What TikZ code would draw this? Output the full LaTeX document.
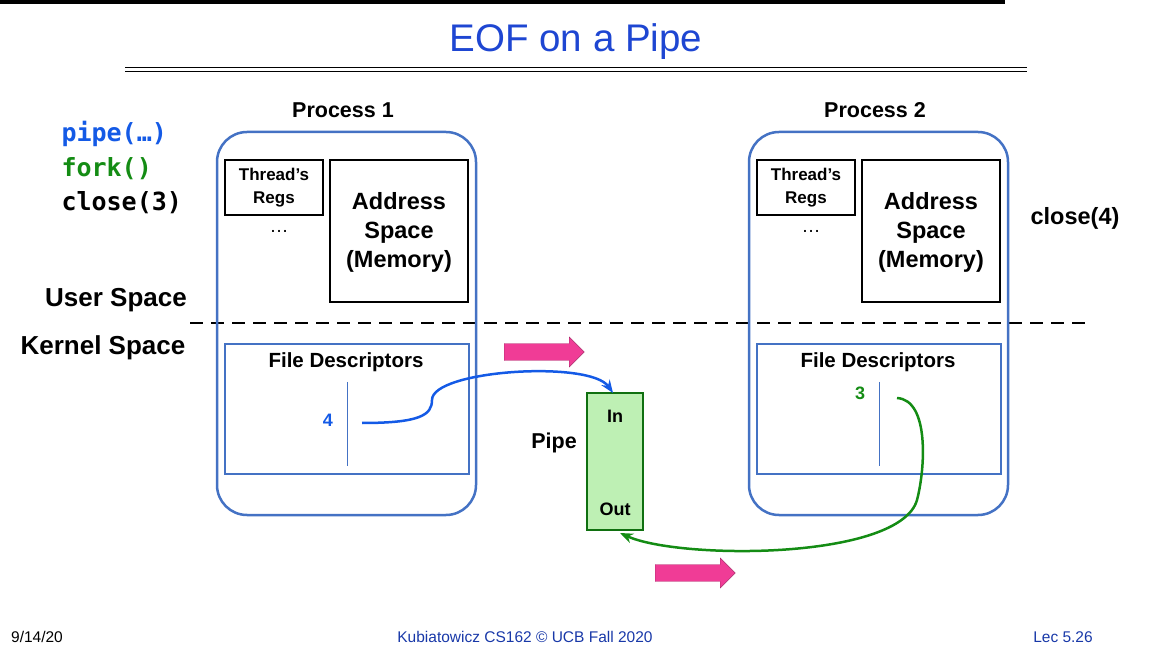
\documentclass[tikz,border=0pt]{standalone}
\usepackage{fontspec}
\setmainfont{Liberation Sans}
\newfontfamily\codefont{DejaVu Sans Mono}
\usetikzlibrary{shapes.arrows,arrows.meta}
\definecolor{tblue}{RGB}{30,70,210}
\definecolor{pblue}{RGB}{68,114,196}
\definecolor{cblue}{RGB}{20,90,230}
\definecolor{cgreen}{RGB}{20,140,20}
\definecolor{pgreen}{RGB}{190,240,180}
\definecolor{pink}{RGB}{240,60,150}
\tikzset{
 proc/.style={draw=pblue,line width=2.5pt,rounded corners=30pt},
 box/.style={draw=black,line width=1.5pt},
 fd/.style={draw=pblue,line width=1.2pt},
 bl/.style={font=\bfseries\fontsize{18}{20}\selectfont,align=center},
 big/.style={font=\bfseries\fontsize{23.5}{29}\selectfont,align=center},
 code/.style={anchor=west,font=\codefont\bfseries\fontsize{25}{28}\selectfont},
 parr/.style={single arrow,fill=pink,draw=pink!70!black,minimum height=80pt,minimum width=30pt,single arrow head extend=4pt,inner sep=5pt},
 foot/.style={font=\fontsize{15.5}{17}\selectfont}
}
\begin{document}
\begin{tikzpicture}[x=1pt,y=-1pt]
\useasboundingbox (0,0) rectangle (1152,652);
\fill (0,0) rectangle (1005,4);
\node[text=tblue,font=\fontsize{38.5}{42}\selectfont] (title) at (576,42) {EOF on a Pipe};
\draw[line width=1pt] (125,68) -- (1027,68) (125,71.5) -- (1027,71.5);
% code
\node[code,text=cblue] (c1) at (58,134) {pipe(…)};
\node[code,text=cgreen] (c2) at (58,169) {fork()};
\node[code] (c3) at (58,203) {close(3)};
\node[big] (c4) at (1075,218) {close(4)};
\node[font=\bfseries\fontsize{26}{30}\selectfont] (us) at (116,300) {User Space};
\node[font=\bfseries\fontsize{26}{30}\selectfont] (ks) at (103,348) {Kernel Space};
\draw[line width=2.5pt,dash pattern=on 13pt off 8pt] (190,323) -- (1090,323);
% processes
\foreach \s/\n in {0/1,532/2}{
 \begin{scope}[xshift=\s]
 \node[font=\bfseries\fontsize{21.5}{24}\selectfont] (pl\n) at (343,110) {Process \n};
 \draw[proc] (217,132) rectangle (476,515);
 \draw[box] (225,160) rectangle (323,215);
 \node[align=center,font=\bfseries\fontsize{17}{23}\selectfont] (tr\n) at (274,188) {Thread’s\\Regs};
 \node[font=\fontsize{19}{20}\selectfont] (dots\n) at (279,231) {…};
 \draw[box] (330,160) rectangle (468,302);
 \node[big] (as\n) at (399,232) {Address\\Space\\(Memory)};
 \draw[fd] (225,344) rectangle (469,474);
 \node[font=\bfseries\fontsize{20.5}{22}\selectfont] (fd\n) at (346,362) {File Descriptors};
 \draw[pblue,line width=1pt] (347,382) -- (347,466);
 \end{scope}}
\node[text=cblue,bl] (n4) at (328,420) {4};
\node[text=cgreen,bl] (n3) at (860,393) {3};
\coordinate (s4) at (362,423);
\coordinate (s3) at (897,398);
% pipe
\node[draw=cgreen!80!black,fill=pgreen,line width=1.5pt,minimum width=56pt,minimum height=137pt] (pipe) at (615,461.5) {};
\node[bl] (in) at (615,416) {In};
\node[bl] (out) at (615,509) {Out};
\node[font=\bfseries\fontsize{21.5}{24}\selectfont] (pl) at (554,443) {Pipe};
\node[parr] (a1) at (540,352) {};
\node[parr] (a2) at (691,573) {};
\draw[cblue,line width=2.5pt,-{Stealth[length=13pt,width=10pt]}] (s4) .. controls (420,423) and (432,415) .. (432,400) .. controls (432,370) and (590,360) .. (613,393);
\draw[cgreen,line width=2.5pt,-{Stealth[length=13pt,width=10pt]}] (s3) .. controls (930,400) and (925,470) .. (917,500) .. controls (900,560) and (680,560) .. (620,533);
\node[foot] (f1) at (37,637) {9/14/20};
\node[foot,text=tblue!80!black] (f2) at (525,637) {Kubiatowicz CS162 © UCB Fall 2020};
\node[foot,text=tblue!80!black] (f3) at (1063,637) {Lec 5.26};
\end{tikzpicture}
\end{document}
